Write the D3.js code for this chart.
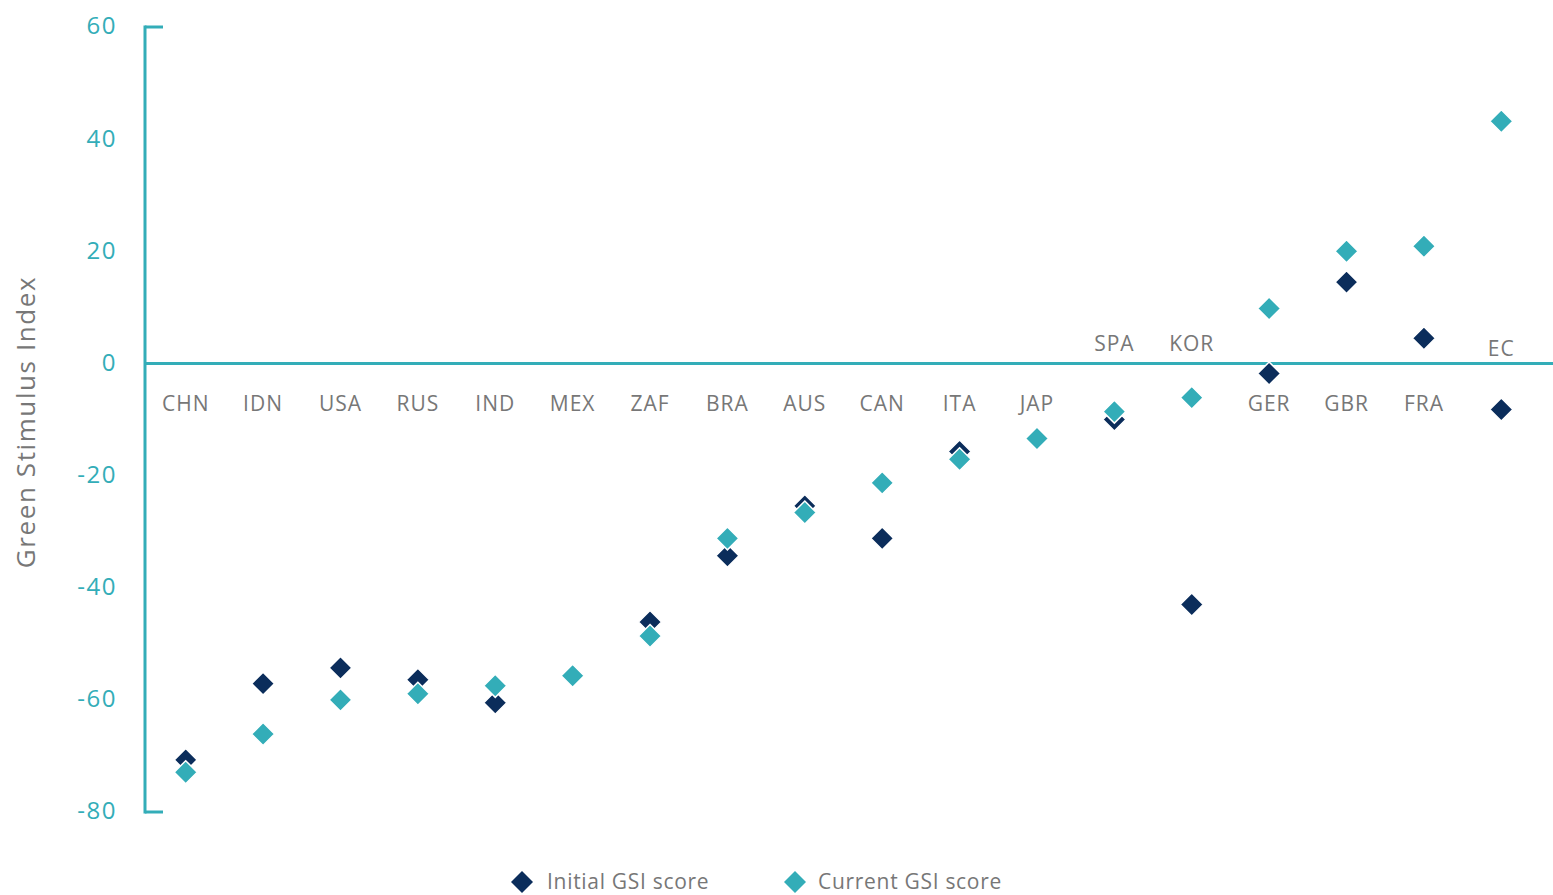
<!DOCTYPE html>
<html><head><meta charset="utf-8">
<script src="https://cdn.jsdelivr.net/npm/d3@7"></script>
<style>body{margin:0;background:#fff}svg{display:block;font-family:"Open Sans",sans-serif}</style>
</head><body><svg id="c" width="1553" height="895"></svg>
<script>
const categories = ["CHN","IDN","USA","RUS","IND","MEX","ZAF","BRA","AUS","CAN","ITA","JAP","SPA","KOR","GER","GBR","FRA","EC"];
const initialScore = [-70.7,-57.1,-54.3,-56.4,-60.5,-55.7,-46.1,-34.3,-25.4,-31.2,-15.7,-13.4,-10.0,-43.0,-1.8,14.5,4.5,-8.2];
const currentScore = [-72.9,-66.1,-60.0,-58.9,-57.5,-55.7,-48.6,-31.2,-26.6,-21.3,-17.1,-13.4,-8.6,-6.1,9.8,20.0,20.9,43.2];
const labelAbove = ["SPA","KOR","EC"];
const yTicks = [60,40,20,0,-20,-40,-60,-80];
const seriesNames = ["Initial GSI score","Current GSI score"];

const NAVY="#0b2d5b", TEAL="#33adb8", GRAY="#777";
const svg = d3.select("#c");
const x = d3.scaleBand().domain(categories).range([147,1540]);
const y = d3.scaleLinear().domain([-80,60]).range([812,27]);
const cx = c => x(c)+x.bandwidth()/2;

// y axis
svg.append("line").attr("x1",145).attr("x2",145).attr("y1",y(60)-1.5).attr("y2",y(-80)+1.5).attr("stroke",TEAL).attr("stroke-width",3);
[60,-80].forEach(v=>svg.append("line").attr("x1",145).attr("x2",163).attr("y1",y(v)).attr("y2",y(v)).attr("stroke",TEAL).attr("stroke-width",3));
svg.append("g").selectAll("text").data(yTicks).join("text")
  .attr("x",117).attr("y",d=>y(d)-1).attr("dy","0.35em").attr("text-anchor","end")
  .attr("fill",TEAL).attr("font-size",24).attr("letter-spacing",1.5).text(d=>d);
// zero line
svg.append("line").attr("x1",145).attr("x2",1553).attr("y1",y(0)).attr("y2",y(0)).attr("stroke",TEAL).attr("stroke-width",3);

// y title
svg.append("text").attr("transform","translate(26,422) rotate(-90)").attr("text-anchor","middle")
  .attr("dy","0.35em").attr("fill",GRAY).attr("font-size",26).attr("letter-spacing",1.6).text("Green Stimulus Index");

// category labels
svg.append("g").selectAll("text").data(categories).join("text")
  .attr("x",d=>cx(d)).attr("y",d=>d==="EC"?349:(labelAbove.includes(d)?344:404)).attr("dy","0.35em")
  .attr("text-anchor","middle").attr("fill",GRAY).attr("font-size",21).attr("letter-spacing",1).text(d=>d);

const diamond = (w,h)=>`M0,${-h}L${w},0L0,${h}L${-w},0Z`;
function drawSeries(vals,color){
  svg.append("g").selectAll("path").data(vals).join("path")
    .attr("transform",(d,i)=>`translate(${cx(categories[i])},${y(d)})`)
    .attr("d",diamond(11.5,11.5)).attr("fill",color).attr("stroke","#fff").attr("stroke-width",1.5);
}
drawSeries(initialScore,NAVY);
drawSeries(currentScore,TEAL);

// legend
const leg = [{n:seriesNames[0],c:NAVY,x:522,tx:547},{n:seriesNames[1],c:TEAL,x:795,tx:818}];
leg.forEach(l=>{
  svg.append("path").attr("transform",`translate(${l.x},882)`).attr("d",diamond(11,11)).attr("fill",l.c);
  svg.append("text").attr("x",l.tx).attr("y",882).attr("dy","0.35em").attr("fill",GRAY).attr("font-size",21).attr("letter-spacing",0.7).text(l.n);
});
</script></body></html>
